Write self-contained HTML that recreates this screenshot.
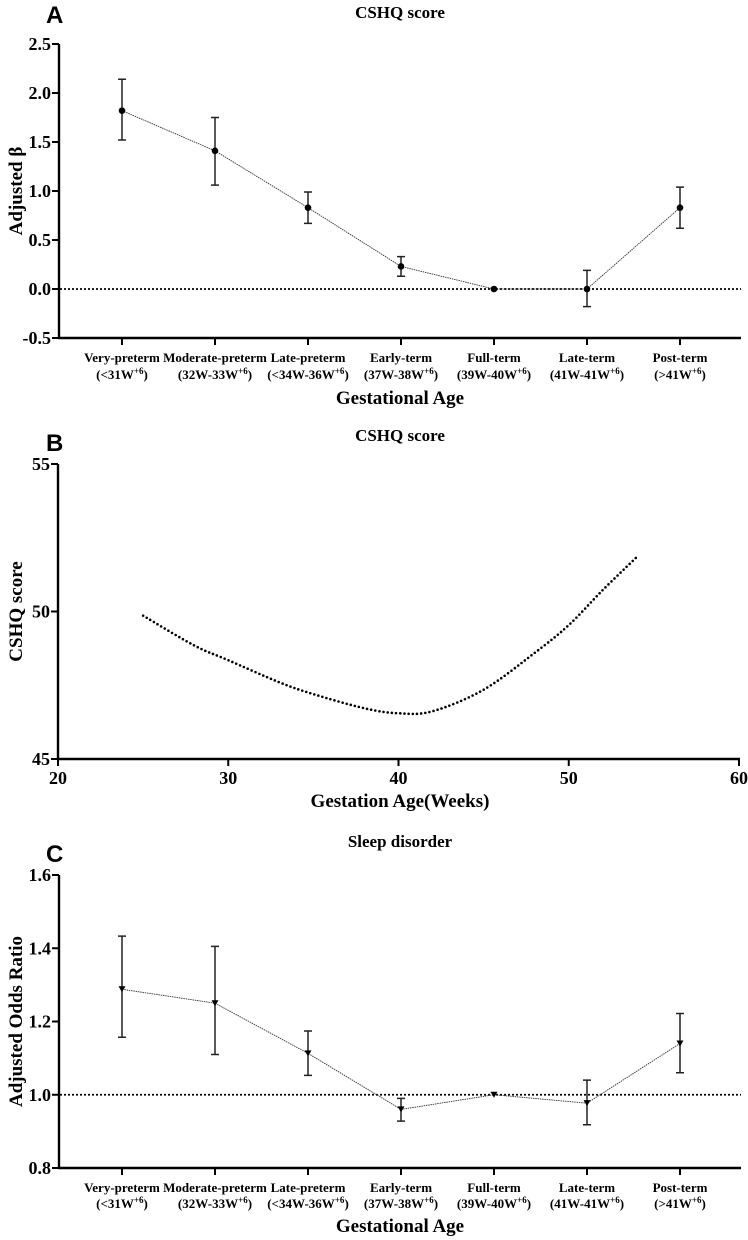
<!DOCTYPE html>
<html><head><meta charset="utf-8">
<style>
html,body{margin:0;padding:0;background:#fff;}
svg{display:block;}
text{font-family:"Liberation Serif",serif;font-weight:bold;fill:#000;}
.pl{font-family:"Liberation Sans",sans-serif;font-size:24px;}
.tk{font-size:18px;}
.cat{font-size:13px;}
.ttl{font-size:17px;}
.ax{font-size:19px;}
</style></head>
<body>
<svg id="fig" width="748" height="1240" xmlns="http://www.w3.org/2000/svg"></svg>
<script>
// ---- data ----
const catLine1 = ["Very-preterm","Moderate-preterm","Late-preterm","Early-term","Full-term","Late-term","Post-term"];
const catLine2 = ["(<31W","(32W-33W","(<34W-36W","(37W-38W","(39W-40W","(41W-41W","(>41W"];
const aBeta = [1.82,1.41,0.83,0.23,0.0,0.0,0.83];
const aLow  = [1.52,1.06,0.67,0.13,0.0,-0.18,0.62];
const aHigh = [2.14,1.75,0.99,0.33,0.0,0.19,1.04];
const aTicks = [-0.5,0.0,0.5,1.0,1.5,2.0,2.5];
const bWeeks = [25,28,30,33,35,38,40,42,45,48,50,52,54];
const bScore = [49.86,48.85,48.35,47.6,47.2,46.72,46.55,46.62,47.35,48.6,49.54,50.73,51.85];
const bXTicks = [20,30,40,50,60];
const bYTicks = [45,50,55];
const cOR   = [1.288,1.25,1.113,0.96,1.0,0.977,1.14];
const cLow  = [1.157,1.11,1.053,0.928,1.0,0.918,1.06];
const cHigh = [1.433,1.405,1.174,0.99,1.0,1.04,1.222];
const cTicks = [0.8,1.0,1.2,1.4,1.6];

const svg = document.getElementById('fig');
const NS = "http://www.w3.org/2000/svg";
function mk(tag, attrs, parent){
  const e = document.createElementNS(NS, tag);
  for (const k in attrs) e.setAttribute(k, attrs[k]);
  (parent||svg).appendChild(e);
  return e;
}
function txt(x,y,s,cls,anchor,parent){
  const t = mk('text',{x:x,y:y,'class':cls,'text-anchor':anchor||'middle'},parent);
  t.textContent = s; return t;
}

const catX = i => 122 + i*93.0;

function catPanel(opts){
  const g = mk('g',{});
  
  
  const y = v => opts.y0 + (v - opts.vmin)/(opts.vmax-opts.vmin)*(opts.y1-opts.y0);
  const axisY = y(opts.vmin);
  const L = txt(opts.letterX, opts.letterY, opts.letter, 'pl', 'start', g);
  
  
  const T = txt(opts.titleX, opts.titleY, opts.title, 'ttl', 'middle', g);
  
  
  const ya = mk('line',{x1:59,y1:y(opts.vmax),x2:59,y2:axisY+1,stroke:'#000','stroke-width':2.4},g);
  
  
  const xa = mk('line',{x1:58,y1:axisY,x2:741,y2:axisY,stroke:'#000','stroke-width':2.4},g);
  
  
  opts.ticks.forEach(v=>{
    mk('line',{x1:52,y1:y(v),x2:59,y2:y(v),stroke:'#000','stroke-width':2},g);
    const t = txt(51, y(v)+6, v.toFixed(1), 'tk', 'end', g);
    
    
  });
  const rl = mk('line',{x1:60,y1:y(opts.ref),x2:741,y2:y(opts.ref),stroke:'#000','stroke-width':1.8,'stroke-dasharray':'2,2'},g);
  
  
  catLine1.forEach((c,i)=>{
    mk('line',{x1:catX(i),y1:axisY,x2:catX(i),y2:axisY+7,stroke:'#000','stroke-width':2},g);
    const t1 = txt(catX(i), axisY+opts.lab1, c, 'cat', 'middle', g);
    
    
    const t2 = txt(catX(i), axisY+opts.lab2, '', 'cat', 'middle', g);
    
    
    t2.appendChild(document.createTextNode(catLine2[i]));
    const sp = mk('tspan',{dy:-5,'font-size':'9px'},t2); sp.textContent='+6';
    const sp2 = mk('tspan',{dy:5},t2); sp2.textContent=')';
  });
  const xt = txt(opts.titleX, axisY+opts.axT, 'Gestational Age', 'ax', 'middle', g);
  
  
  const yt = txt(0,0,opts.ytitle,'ax','middle',g);
  yt.setAttribute('transform','translate(22,'+((y(opts.vmax)+axisY)/2)+') rotate(-90)');
  
  
  const pts = opts.vals.map((v,i)=>catX(i)+','+y(v)).join(' ');
  const pl = mk('polyline',{points:pts,fill:'none',stroke:'#333','stroke-width':0.9,'stroke-dasharray':'1.5,0.8'},g);
  
  
  opts.vals.forEach((v,i)=>{
    const x = catX(i);
    if (opts.hi[i]!==opts.lo[i]){
      const eb = mk('path',{d:`M${x},${y(opts.hi[i])}V${y(opts.lo[i])}M${x-4},${y(opts.hi[i])}H${x+4}M${x-4},${y(opts.lo[i])}H${x+4}`,stroke:'#222','stroke-width':1.5,fill:'none'},g);
      
      
    }
    let m;
    if (opts.marker==='circle') m = mk('circle',{cx:x,cy:y(v),r:3.3,fill:'#000'},g);
    else m = mk('path',{d:`M${x-3.5},${y(v)-3}H${x+3.5}L${x},${y(v)+3}Z`,fill:'#000'},g);
    
    
  });
}

catPanel({name:'panel-a-chart',letter:'A',letterX:46,letterY:23,title:'CSHQ score',titleX:400,titleY:18,
  vmin:-0.5,vmax:2.5,y0:338,y1:44,ticks:aTicks,ref:0,vals:aBeta,lo:aLow,hi:aHigh,marker:'circle',
  ytitle:'Adjusted β',lab1:24,lab2:41,axT:66});

catPanel({name:'panel-c-chart',letter:'C',letterX:46,letterY:862,title:'Sleep disorder',titleX:400,titleY:847,
  vmin:0.8,vmax:1.6,y0:1168,y1:875,ticks:cTicks,ref:1.0,vals:cOR,lo:cLow,hi:cHigh,marker:'tri',
  ytitle:'Adjusted Odds Ratio',lab1:24,lab2:40,axT:64});

// ---- panel B ----
(function(){
  const g = mk('g',{});
  
  
  const x = w => 58 + (w-20)/40*681;
  const y = v => 759 - (v-45)/10*295;
  const L = txt(46,451,'B','pl','start',g);
  
  
  const T = txt(400,441,'CSHQ score','ttl','middle',g);
  
  
  const ya = mk('line',{x1:58,y1:y(55),x2:58,y2:y(45)+1,stroke:'#000','stroke-width':2.4},g);
  
  
  const xa = mk('line',{x1:57,y1:y(45),x2:x(60)+1,y2:y(45),stroke:'#000','stroke-width':2.4},g);
  
  
  bYTicks.forEach(v=>{
    mk('line',{x1:51,y1:y(v),x2:58,y2:y(v),stroke:'#000','stroke-width':2},g);
    const t = txt(50,y(v)+6,String(v),'tk','end',g);
    
    
  });
  bXTicks.forEach(w=>{
    mk('line',{x1:x(w),y1:y(45),x2:x(w),y2:y(45)+7,stroke:'#000','stroke-width':2},g);
    const t = txt(x(w),y(45)+25,String(w),'tk','middle',g);
    
    
  });
  const xt = txt(400,807,'Gestation Age(Weeks)','ax','middle',g);
  
  
  const yt = txt(0,0,'CSHQ score','ax','middle',g);
  yt.setAttribute('transform','translate(22,'+((y(55)+y(45))/2)+') rotate(-90)');
  
  
  const P = bWeeks.map((w,i)=>[x(w),y(bScore[i])]);
  let d = `M${P[0][0]},${P[0][1]}`;
  for (let i=0;i<P.length-1;i++){
    const p0=P[Math.max(0,i-1)],p1=P[i],p2=P[i+1],p3=P[Math.min(P.length-1,i+2)];
    const c1=[p1[0]+(p2[0]-p0[0])/6,p1[1]+(p2[1]-p0[1])/6];
    const c2=[p2[0]-(p3[0]-p1[0])/6,p2[1]-(p3[1]-p1[1])/6];
    d+=` C${c1[0]},${c1[1]} ${c2[0]},${c2[1]} ${p2[0]},${p2[1]}`;
  }
  const c = mk('path',{d:d,fill:'none',stroke:'#000','stroke-width':2.6,'stroke-dasharray':'0,4.2','stroke-linecap':'round'},g);
  
  
})();
</script>
</body></html>
